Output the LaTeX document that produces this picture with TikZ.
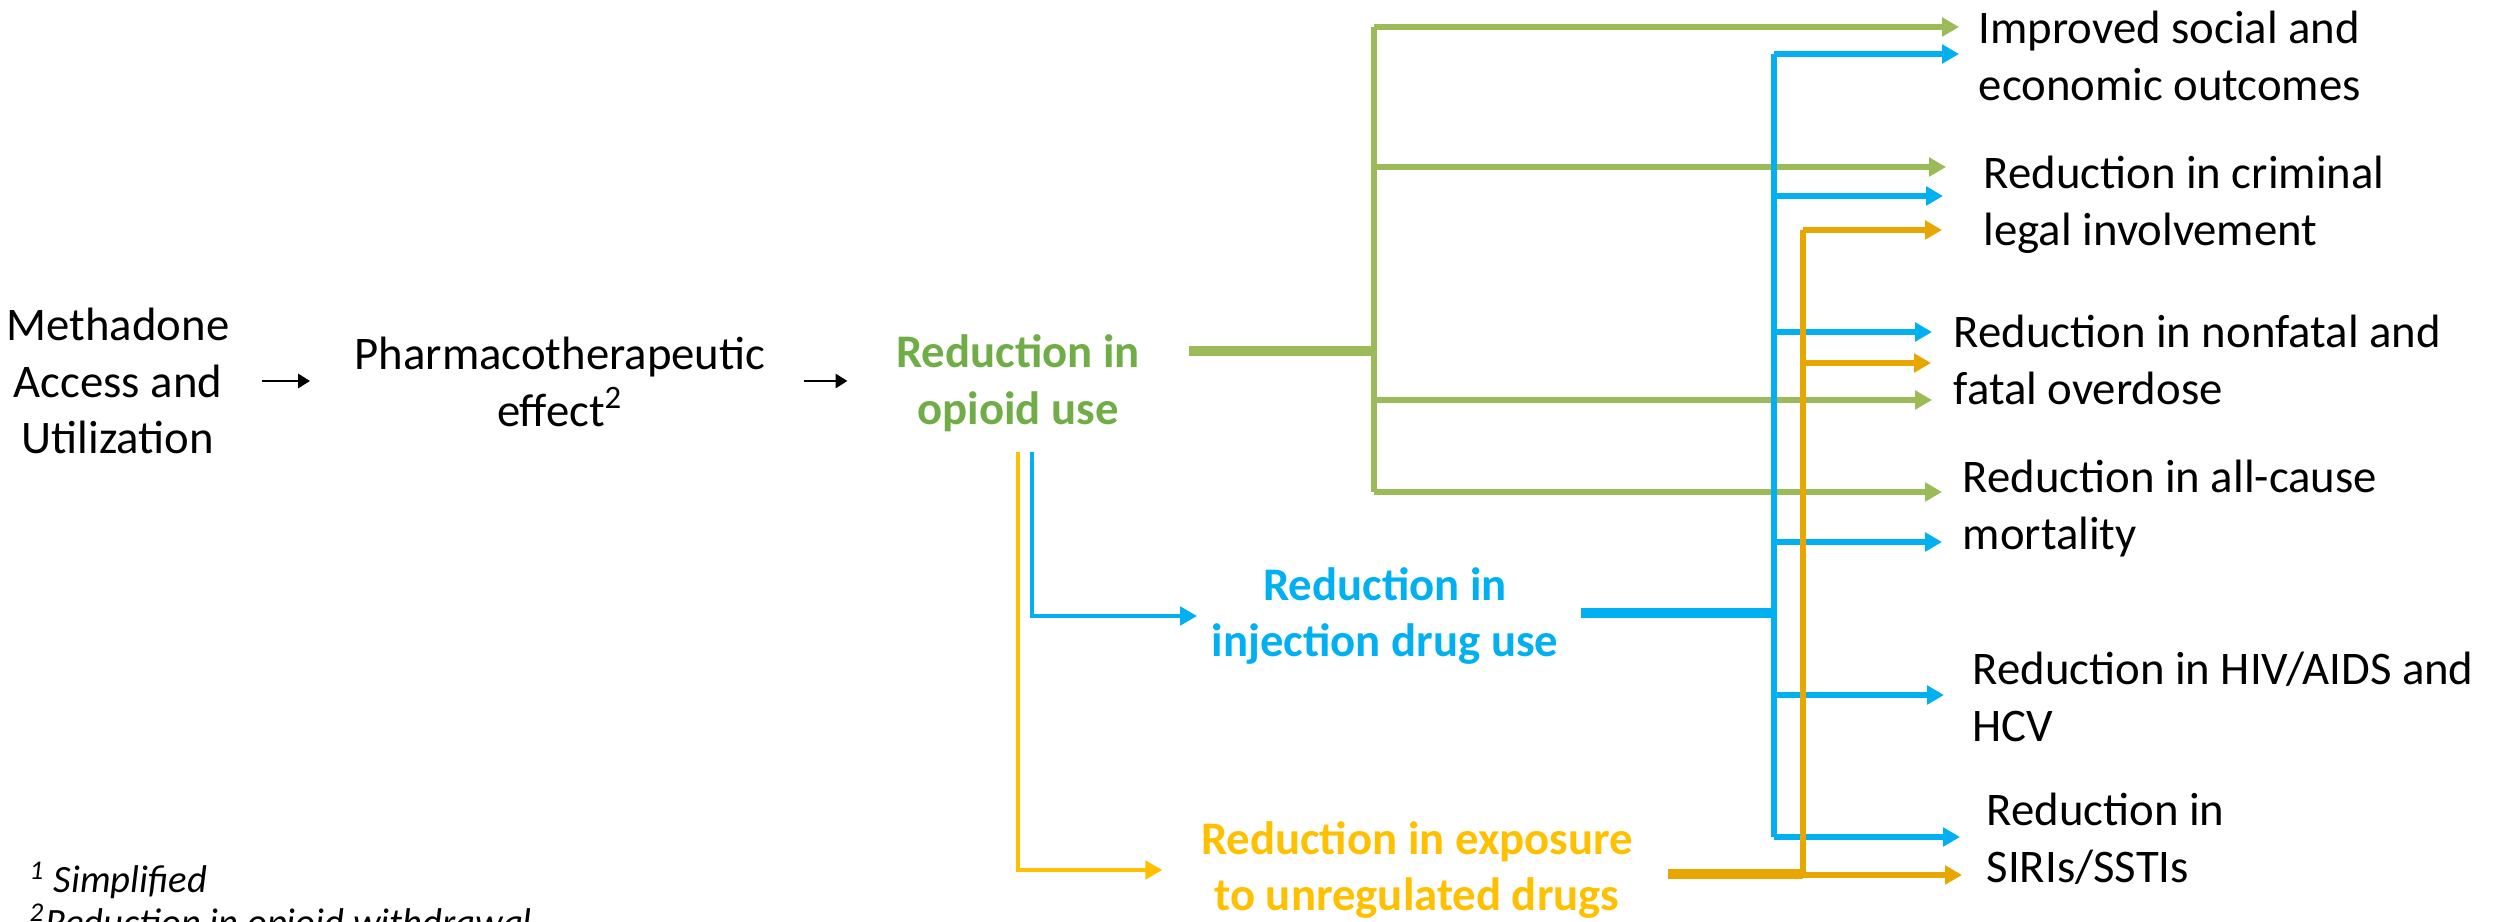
\documentclass[tikz,border=0pt]{standalone}
\usepackage{fontspec}
\setmainfont{Carlito}
\usepackage{tikz}
\usetikzlibrary{
  arrows.meta,
  calc,
  positioning}

\definecolor{oliv}{RGB}{155,187,89}
\definecolor{olivtext}{RGB}{112,173,71}
\definecolor{sky}{RGB}{0,176,240}
\definecolor{gold}{RGB}{255,192,0}
\definecolor{ochre}{RGB}{232,166,0}

\begin{document}
\begin{tikzpicture}[
    >={Triangle[length=4.8pt,width=5.2pt]},
    lbl/.style={font=\fontsize{13.3}{16.2}\selectfont, inner sep=0pt, align=center},
    bold/.style={lbl, font=\fontsize{13.3}{16.2}\selectfont\bfseries},
    outcome/.style={lbl, anchor=west, align=left},
    wire/.style={line width=1.5pt},
    stub/.style={line width=2.8pt},
    fine/.style={line width=1.1pt},
    blk/.style={line width=0.8pt, -{Triangle[length=3.4pt,width=4pt]}}]
        \useasboundingbox (0,0) rectangle (25.06,-9.22);

        \node[lbl] (methadone) at (1.18,-3.81) {Methadone\\Access and\\Utilization};
        \node[lbl] (pharma) at (5.60,-3.82) {Pharmacotherapeutic\\effect\textsuperscript{2}};
        \node[bold,text=olivtext] (opioid) at (10.18,-3.83) {Reduction in\\opioid use};
        \node[bold,text=sky] (injection) at (13.85,-6.16) {Reduction in\\injection drug use};
        \node[bold,text=gold] (exposure) at (14.17,-8.70) {Reduction in exposure\\to unregulated drugs};

        \node[outcome] (improved) at (19.78,-0.56) {Improved social and\\economic outcomes};
        \node[outcome] (criminal) at (19.83,-2.05) {Reduction in criminal\\legal involvement};
        \node[outcome] (overdose) at (19.53,-3.60) {Reduction in nonfatal and\\fatal overdose};
        \node[outcome] (mortality) at (19.62,-5.09) {Reduction in all-cause\\mortality};
        \node[outcome] (hiv) at (19.72,-6.97) {Reduction in HIV/AIDS and\\HCV};
        \node[outcome] (siri) at (19.86,-8.39) {Reduction in\\SIRIs/SSTIs};

        \node[anchor=base west, inner sep=0pt, font=\fontsize{11}{13}\selectfont\itshape] (note1) at (0.29,-8.93) {\textsuperscript{1} Simplified};
        \node[anchor=base west, inner sep=0pt, font=\fontsize{11}{13}\selectfont\itshape] (note2) at (0.29,-9.35) {\textsuperscript{2}Reduction in opioid withdrawal};

        \draw[blk, shorten <=0.32cm, shorten >=0.44cm] (methadone.east) -- (pharma.west |- methadone.east);
        \draw[blk, shorten <=0.38cm, shorten >=0.48cm] (pharma.east |- methadone.east) -- (opioid.west |- methadone.east);

        \draw[fine,gold,->,shorten >=0.38cm] (opioid.south) ++(0,-0.2) |- (exposure.west);
        \draw[fine,sky,->,shorten >=0.14cm] ([xshift=0.14cm]opioid.south) ++(0,-0.2) |- (injection.west);

        \coordinate (gsplit) at (13.74,-3.51);
        \coordinate (g1) at (19.59,-0.27);
        \coordinate (g2) at (19.46,-1.67);
        \coordinate (g3) at (19.32,-4.00);
        \coordinate (g4) at (19.42,-4.92);
        \draw[stub,oliv] (opioid.east |- gsplit) ++(0.48,0) -- (gsplit);
        \draw[wire,oliv] (gsplit |- g1) -- (gsplit |- g4);
        \foreach \t in {g1,g2,g3,g4} {
            \draw[wire,oliv,->] (gsplit |- \t) -- (\t);
        }

        \coordinate (bsplit) at (17.74,-6.13);
        \coordinate (b1) at (19.59,-0.54);
        \coordinate (b2) at (19.43,-1.96);
        \coordinate (b3) at (19.32,-3.32);
        \coordinate (b4) at (19.42,-5.42);
        \coordinate (b5) at (19.44,-6.95);
        \coordinate (b6) at (19.60,-8.37);
        \draw[stub,sky] (injection.east |- bsplit) ++(0.22,0) -- (bsplit);
        \draw[wire,sky] (bsplit |- b1) -- (bsplit |- b6);
        \foreach \t in {b1,b2,b3,b4,b5,b6} {
            \draw[wire,sky,->] (bsplit |- \t) -- (\t);
        }

        \coordinate (osplit) at (18.03,-8.74);
        \coordinate (o1) at (19.42,-2.30);
        \coordinate (o2) at (19.31,-3.63);
        \coordinate (o3) at (19.62,-8.75);
        \draw[stub,ochre] (exposure.east |- osplit) ++(0.34,0) -- (osplit);
        \draw[wire,ochre] (osplit |- o1) -- (osplit);
        \foreach \t in {o1,o2,o3} {
            \draw[wire,ochre,->] (osplit |- \t) -- (\t);
        }
    \end{tikzpicture}
\end{document}
